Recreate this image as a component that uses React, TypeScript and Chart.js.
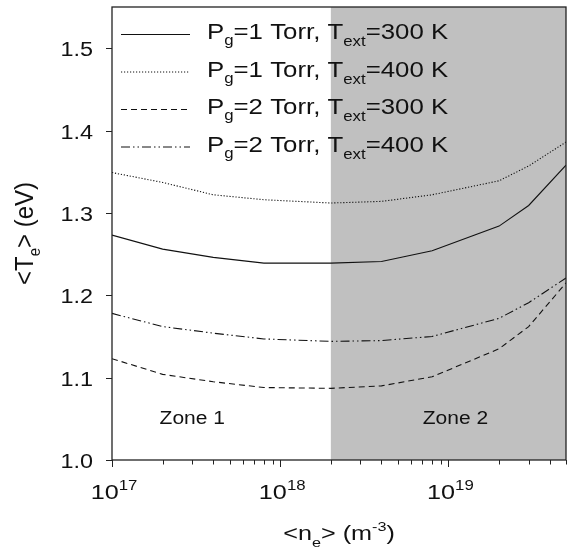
import React, { useEffect, useRef } from "react";
import { Chart, registerables } from "chart.js";

Chart.register(...registerables);

// Electron density <n_e> (m^-3) at which the mean temperature was computed
const neValues = [1e17, 2e17, 4e17, 8e17, 2e18, 4e18, 8e18, 2e19, 3e19, 5e19];

// Mean electron temperature <T_e> (eV) for each case
const tePg1T300 = [1.273, 1.256, 1.246, 1.239, 1.239, 1.241, 1.254, 1.284, 1.309, 1.358];
const tePg1T400 = [1.349, 1.337, 1.322, 1.316, 1.312, 1.314, 1.322, 1.339, 1.357, 1.386];
const tePg2T300 = [1.123, 1.104, 1.095, 1.088, 1.087, 1.09, 1.101, 1.135, 1.162, 1.215];
const tePg2T400 = [1.178, 1.162, 1.154, 1.147, 1.144, 1.145, 1.15, 1.172, 1.191, 1.221];

// Legend entries: pressure and external temperature
const pressures = ["1", "1", "2", "2"];
const extTemps = ["300", "400", "300", "400"];

// Axis ticks
const yTicks = [1.0, 1.1, 1.2, 1.3, 1.4, 1.5];
const xDecades = [17, 18, 19];
const xMin = 1e17;
const xMax = 5e19;
const yMin = 1.0;
const yMax = 1.55;

// Zone 2 begins at this density; labels of the two zones
const zoneBoundary = 2e18;
const zoneLabels = ["Zone 1", "Zone 2"];
const zoneLabelX = [3e17, 1.1e19];
const zoneLabelY = 1.044;

const FONT = "'Liberation Sans', Arial, Helvetica, sans-serif";
const SX = 1.2; // horizontal widening of the lettering
const INK = "#111";

type Run = { t: string; size: number; dy?: number };

function runsWidth(ctx: CanvasRenderingContext2D, runs: Run[], sx: number) {
  let w = 0;
  for (const r of runs) {
    ctx.font = `${r.size}px ${FONT}`;
    w += ctx.measureText(r.t).width * sx;
  }
  return w;
}

// Draws a row of text pieces (with sub/superscripts) along the baseline y
function drawRuns(
  ctx: CanvasRenderingContext2D,
  runs: Run[],
  x: number,
  y: number,
  sx: number,
  align: "left" | "center" | "right" = "left"
) {
  const total = runsWidth(ctx, runs, sx);
  let cx = align === "left" ? x : align === "center" ? x - total / 2 : x - total;
  ctx.textAlign = "left";
  ctx.textBaseline = "alphabetic";
  for (const r of runs) {
    ctx.font = `${r.size}px ${FONT}`;
    const w = ctx.measureText(r.t).width;
    ctx.save();
    ctx.translate(cx, y + (r.dy || 0));
    ctx.scale(sx, 1);
    ctx.fillText(r.t, 0, 0);
    ctx.restore();
    cx += w * sx;
  }
}

const lineStyles: number[][] = [[], [1.2, 1.8], [6, 4], [9, 3, 1.5, 3, 1.5, 3]];

const framePlugin = {
  id: "frame",
  beforeDatasetsDraw(chart: any) {
    const { ctx, chartArea } = chart;
    const xs = chart.scales.x;
    const x0 = xs.getPixelForValue(zoneBoundary);
    ctx.save();
    ctx.fillStyle = "#c0c0c0";
    ctx.fillRect(x0, chartArea.top, chartArea.right - x0, chartArea.bottom - chartArea.top);
    ctx.restore();
  },
  afterDatasetsDraw(chart: any) {
    const { ctx, chartArea } = chart;
    const { left, right, top, bottom } = chartArea;
    const xs = chart.scales.x;
    const ys = chart.scales.y;
    ctx.save();
    ctx.fillStyle = INK;

    // zone labels
    zoneLabels.forEach((label, i) => {
      drawRuns(
        ctx,
        [{ t: label, size: 17.5 }],
        xs.getPixelForValue(zoneLabelX[i]),
        ys.getPixelForValue(zoneLabelY),
        SX,
        "center"
      );
    });

    // frame
    ctx.strokeStyle = "#222";
    ctx.lineWidth = 1.3;
    ctx.strokeRect(left, top, right - left, bottom - top);

    // y ticks and labels
    ctx.lineWidth = 1;
    for (const v of yTicks) {
      const py = Math.round(ys.getPixelForValue(v)) + 0.5;
      ctx.beginPath();
      ctx.moveTo(left - 6, py);
      ctx.lineTo(left, py);
      ctx.stroke();
      drawRuns(ctx, [{ t: v.toFixed(1), size: 19.5 }], left - 19, py + 7, SX, "right");
    }

    // x ticks (major at decades, minor at 2..9)
    for (let e = 17; e <= 19; e++) {
      for (let m = 1; m <= 9; m++) {
        const v = m * Math.pow(10, e);
        if (v < xMin || v > xMax) continue;
        const px = Math.round(xs.getPixelForValue(v)) + 0.5;
        ctx.beginPath();
        ctx.moveTo(px, bottom);
        ctx.lineTo(px, bottom + (m === 1 ? 7 : 4.5));
        ctx.stroke();
      }
    }
    for (const d of xDecades) {
      const px = xs.getPixelForValue(Math.pow(10, d));
      drawRuns(
        ctx,
        [
          { t: "10", size: 21 },
          { t: String(d), size: 14, dy: -9 },
        ],
        px + 2,
        bottom + 39,
        SX,
        "center"
      );
    }

    // x title
    drawRuns(
      ctx,
      [
        { t: "<n", size: 21 },
        { t: "e", size: 13.5, dy: 7 },
        { t: "> (m", size: 21 },
        { t: "-3", size: 13.5, dy: -9 },
        { t: ")", size: 21 },
      ],
      (left + right) / 2,
      bottom + 80,
      SX,
      "center"
    );

    // y title (rotated)
    ctx.save();
    ctx.translate(33, (top + bottom) / 2);
    ctx.rotate(-Math.PI / 2);
    ctx.scale(1, 1.06);
    drawRuns(
      ctx,
      [
        { t: "<T", size: 24 },
        { t: "e", size: 15, dy: 7 },
        { t: "> (eV)", size: 24 },
      ],
      0,
      0,
      1,
      "center"
    );
    ctx.restore();

    // legend
    for (let i = 0; i < 4; i++) {
      const base = top + 32 + i * 37.5;
      const ly = base - 4.5;
      ctx.save();
      ctx.strokeStyle = INK;
      ctx.lineWidth = 1;
      ctx.setLineDash(lineStyles[i]);
      ctx.beginPath();
      ctx.moveTo(left + 9, ly);
      ctx.lineTo(left + 78, ly);
      ctx.stroke();
      ctx.restore();
      drawRuns(
        ctx,
        [
          { t: "P", size: 21.5 },
          { t: "g", size: 14, dy: 6 },
          { t: `=${pressures[i]} Torr, T`, size: 21.5 },
          { t: "ext", size: 14, dy: 7 },
          { t: `=${extTemps[i]} K`, size: 21.5 },
        ],
        left + 95,
        base,
        SX,
        "left"
      );
    }
    ctx.restore();
  },
};

export default function App() {
  const canvasRef = useRef<HTMLCanvasElement | null>(null);

  useEffect(() => {
    if (!canvasRef.current) return;
    const series = [tePg1T300, tePg1T400, tePg2T300, tePg2T400];
    const chart = new Chart(canvasRef.current, {
      type: "line",
      data: {
        datasets: series.map((s, i) => ({
          label: `Pg=${pressures[i]} Torr, Text=${extTemps[i]} K`,
          data: neValues.map((x, j) => ({ x, y: s[j] })),
          borderColor: INK,
          borderWidth: 1.1,
          borderDash: lineStyles[i],
          pointRadius: 0,
          tension: 0,
          fill: false,
        })),
      },
      options: {
        responsive: false,
        animation: false,
        devicePixelRatio: 1,
        layout: { padding: { left: 112, right: 3, top: 7, bottom: 92 } },
        plugins: { legend: { display: false }, tooltip: { enabled: false } },
        scales: {
          x: { type: "logarithmic", min: xMin, max: xMax, display: false },
          y: { type: "linear", min: yMin, max: yMax, display: false },
        },
      },
      plugins: [framePlugin],
    });
    return () => chart.destroy();
  }, []);

  return (
    <div style={{ position: "absolute", left: 0, top: 0, width: 569, height: 552, background: "#fff" }}>
      <canvas ref={canvasRef} width={569} height={552} />
    </div>
  );
}
